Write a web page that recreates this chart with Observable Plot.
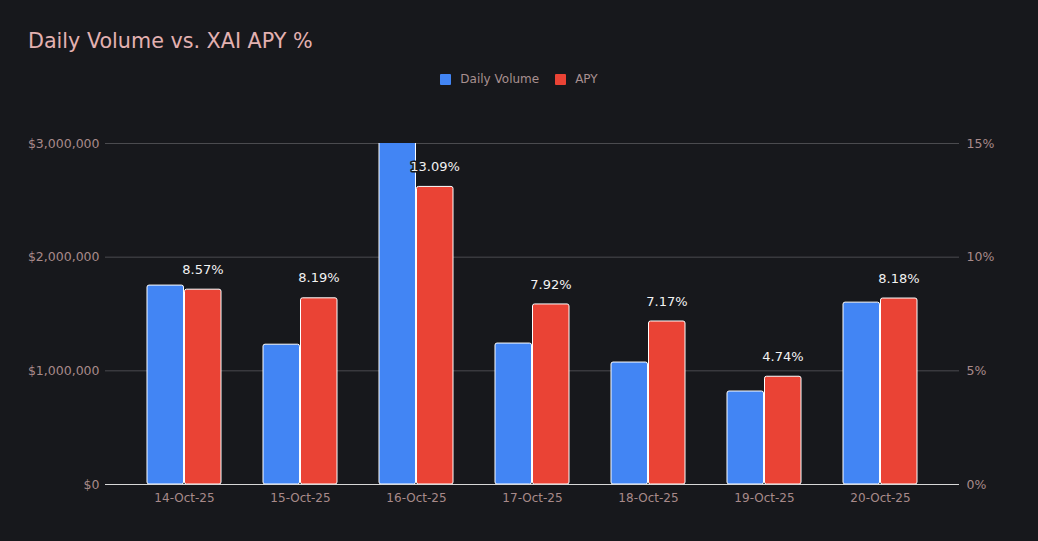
<!DOCTYPE html>
<html>
<head>
<meta charset="utf-8">
<script src="https://cdn.jsdelivr.net/npm/d3@7"></script>
<script src="https://cdn.jsdelivr.net/npm/@observablehq/plot@0.6"></script>
<style>
  html, body { margin: 0; padding: 0; background: #17181c; }
  body { width: 1038px; height: 541px; position: relative; overflow: hidden; font-family: "DejaVu Sans", sans-serif; }
  #title { position: absolute; left: 28px; top: 29px; font-size: 20.7px; color: #e3b1b1; white-space: nowrap; }
  #legend { position: absolute; left: 0; width: 1038px; top: 72px; text-align: center; font-size: 12px; color: #a89090; }
  #legend span.item { display: inline-flex; align-items: center; margin: 0 8px; }
  #legend span.sw { display: inline-block; width: 11px; height: 11px; margin-right: 9px; border-radius: 1px; }
  #chart { position: absolute; left: 0; top: 100px; }
</style>
</head>
<body>
<div id="title">Daily Volume vs. XAI APY %</div>
<div id="legend"></div>
<div id="chart"></div>
<script>
const dates = ["14-Oct-25", "15-Oct-25", "16-Oct-25", "17-Oct-25", "18-Oct-25", "19-Oct-25", "20-Oct-25"];
const volume = [1750000, 1230000, 3350000, 1240000, 1073000, 818000, 1600000];
const apy = [8.57, 8.19, 13.09, 7.92, 7.17, 4.74, 8.18];
const seriesNames = ["Daily Volume", "APY"];
const seriesColors = ["#4285f4", "#ea4335"];
const volTicks = [0, 1000000, 2000000, 3000000];
const apyTicks = [0, 5, 10, 15];

const volMax = 3000000, apyMax = 15;
const toVol = v => v / apyMax * volMax;

const rows = dates.map((d, i) => ({date: d, volume: volume[i], apy: apy[i], apyScaled: toVol(apy[i])}));

// legend
const leg = document.getElementById("legend");
seriesNames.forEach((n, i) => {
  const s = document.createElement("span"); s.className = "item";
  s.innerHTML = `<span class="sw" style="background:${seriesColors[i]}"></span>${n}`;
  leg.appendChild(s);
});

const W = 1038, H = 441, mL = 105, mR = 79, mT = 43, mB = 57;
const padIn = 0.363, padOut = 0.356;
const bw = d3.scaleBand().domain(dates).range([mL, W - mR]).paddingInner(padIn).paddingOuter(padOut).bandwidth();
const half = bw / 2;

const axisColor = "#a88a8a";

const chart = Plot.plot({
  width: W, height: H,
  marginLeft: mL, marginRight: mR, marginTop: mT, marginBottom: mB,
  style: {background: "transparent", fontFamily: "DejaVu Sans, sans-serif", fontSize: "12px", color: axisColor},
  x: {domain: dates, paddingInner: padIn, paddingOuter: padOut, label: null},
  y: {domain: [0, volMax], label: null},
  marks: [
    Plot.ruleY(volTicks.filter(t => t > 0), {stroke: "#4b4b4f", strokeWidth: 1}),
    Plot.barY(rows, {x: "date", y: "volume", fill: seriesColors[0], stroke: "#ffffff", strokeWidth: 1, insetRight: half + 0.5, rx: 2, clip: true}),
    Plot.barY(rows, {x: "date", y: "apyScaled", fill: seriesColors[1], stroke: "#ffffff", strokeWidth: 1, insetLeft: half + 0.5, rx: 2, clip: true}),
    Plot.ruleY([0], {stroke: "#d8d8d8", strokeWidth: 1}),
    Plot.text(rows, {x: "date", y: "apyScaled", text: d => d.apy.toFixed(2) + "%", dx: half / 2, dy: -20, fill: "#f2f2f2", stroke: "#17181c", strokeWidth: 3, fontSize: 13}),
    Plot.axisX({tickSize: 0, tickPadding: 9, fill: axisColor, fontSize: 12, label: null}),
    Plot.axisY({anchor: "left", ticks: volTicks, tickSize: 0, tickPadding: 6, tickFormat: d => "$" + d3.format(",")(d), fill: axisColor, fontSize: 12.5, label: null}),
    Plot.axisY({anchor: "right", ticks: apyTicks.map(toVol), tickSize: 0, tickPadding: 7, tickFormat: d => Math.round(d / volMax * apyMax) + "%", fill: axisColor, fontSize: 12.5, label: null})
  ]
});
document.getElementById("chart").appendChild(chart);
</script>
</body>
</html>
